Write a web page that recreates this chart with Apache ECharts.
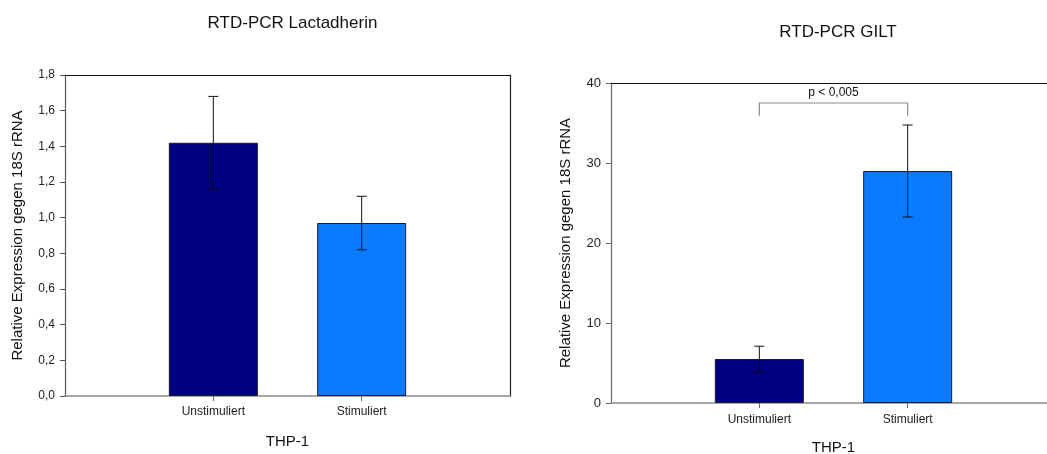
<!DOCTYPE html>
<html>
<head>
<meta charset="utf-8">
<script src="https://cdn.jsdelivr.net/npm/echarts@6/dist/echarts.min.js"></script>
<style>
html,body{margin:0;padding:0;background:#fff;}
#c{width:1047px;height:454px;}
</style>
</head>
<body>
<div id="c"></div>
<script>
// ---- data ----
var categories = ['Unstimuliert', 'Stimuliert'];
var lactadherinMean = [1.42, 0.97];
var lactadherinErr = [0.26, 0.15];
var giltMean = [5.5, 29.0];
var giltErr = [1.6, 5.75];
var significanceLabel = 'p < 0,005';
var bracketTop = 37.5;
var bracketLeg = 35.9;
var barColors = ['#000080', '#0a7bff'];
var titles = ['RTD-PCR Lactadherin', 'RTD-PCR GILT'];
var yTitle = 'Relative Expression gegen 18S rRNA';
var xTitle = 'THP-1';

var FONT = '"Liberation Sans", Arial, sans-serif';
var axisData = [''].concat(categories).concat(['']);

function barSeries(values, gi) {
  return {
    type: 'bar', xAxisIndex: gi * 2, yAxisIndex: gi * 2,
    barWidth: 89,
    data: ['-'].concat(values.map(function (v, i) {
      return { value: v, itemStyle: { color: barColors[i], borderColor: '#1a1a2a', borderWidth: 1 } };
    })).concat(['-']),
    z: 2
  };
}
function errSeries(means, errs, gi) {
  return {
    type: 'custom', xAxisIndex: gi * 2, yAxisIndex: gi * 2, z: 5,
    data: means.map(function (m, i) { return [i + 1, m, errs[i]]; }),
    renderItem: function (params, api) {
      var x = api.value(0), m = api.value(1), e = api.value(2);
      var top = api.coord([x, m + e]);
      var bot = api.coord([x, m - e]);
      var w = 5;
      var st = { stroke: '#111', lineWidth: 1 };
      return { type: 'group', children: [
        { type: 'line', shape: { x1: top[0], y1: top[1], x2: bot[0], y2: bot[1] }, style: st },
        { type: 'line', shape: { x1: top[0] - w, y1: top[1], x2: top[0] + w, y2: top[1] }, style: st },
        { type: 'line', shape: { x1: bot[0] - w, y1: bot[1], x2: bot[0] + w, y2: bot[1] }, style: st }
      ]};
    }
  };
}

var grids = [
  { left: 65, top: 75, width: 445, height: 321, outerBoundsMode: 'none', containLabel: false },
  { left: 611, top: 83, width: 445, height: 320, outerBoundsMode: 'none', containLabel: false }
];

function xAxes(gi, labelMargin, nameGap) {
  return [
    {
      type: 'category', gridIndex: gi, data: axisData, boundaryGap: false, position: 'bottom',
      axisLine: { onZero: false, lineStyle: { color: '#8a8a8a', width: 1.5 } },
      axisTick: { show: true, length: 5, lineStyle: { color: '#666' },
        interval: function (idx) { return idx === 1 || idx === 2; } },
      axisLabel: { color: '#222', fontSize: 12, fontFamily: FONT, margin: labelMargin, interval: 0 },
      name: xTitle, nameLocation: 'middle', nameGap: nameGap,
      nameTextStyle: { color: '#111', fontSize: 15, fontFamily: FONT },
      splitLine: { show: false }
    },
    {
      type: 'category', gridIndex: gi, data: axisData, boundaryGap: false, position: 'top',
      axisLine: { show: true, onZero: false, lineStyle: { color: '#111', width: 1.2 } },
      axisTick: { show: false }, axisLabel: { show: false }, splitLine: { show: false }
    }
  ];
}

var option = {
  backgroundColor: '#fff',
  animation: false,
  title: [
    { text: titles[0], left: 287.5, textAlign: 'center', top: 10,
      textStyle: { fontSize: 17, fontWeight: 'normal', color: '#111', fontFamily: FONT } },
    { text: titles[1], left: 833, textAlign: 'center', top: 19,
      textStyle: { fontSize: 17, fontWeight: 'normal', color: '#111', fontFamily: FONT } }
  ],
  grid: grids,
  xAxis: xAxes(0, 10, 38).concat(xAxes(1, 11, 37)),
  yAxis: [
    {
      type: 'value', gridIndex: 0, min: 0, max: 1.8, interval: 0.2,
      axisLine: { show: true, onZero: false, lineStyle: { color: '#555', width: 1.2 } },
      axisTick: { show: true, length: 5, lineStyle: { color: '#555' } },
      axisLabel: { color: '#222', fontSize: 12, fontFamily: FONT, margin: 10,
        formatter: function (v) { return v.toFixed(1).replace('.', ','); } },
      splitLine: { show: false },
      name: yTitle, nameLocation: 'middle', nameGap: 40, nameRotate: 90,
      nameTextStyle: { color: '#111', fontSize: 15, fontFamily: FONT }
    },
    {
      type: 'value', gridIndex: 0, min: 0, max: 1.8, interval: 0.2, position: 'right',
      axisLine: { show: true, onZero: false, lineStyle: { color: '#222', width: 1.2 } },
      axisTick: { show: false }, axisLabel: { show: false }, splitLine: { show: false }
    },
    {
      type: 'value', gridIndex: 1, min: 0, max: 40, interval: 10,
      axisLine: { show: true, onZero: false, lineStyle: { color: '#666', width: 1.2 } },
      axisTick: { show: true, length: 5, lineStyle: { color: '#666' } },
      axisLabel: { color: '#222', fontSize: 13, fontFamily: FONT, margin: 10 },
      splitLine: { show: false },
      name: yTitle, nameLocation: 'middle', nameGap: 38, nameRotate: 90,
      nameTextStyle: { color: '#111', fontSize: 15, fontFamily: FONT }
    },
    {
      type: 'value', gridIndex: 1, min: 0, max: 40, interval: 10, position: 'right', show: false
    }
  ],
  series: [
    barSeries(lactadherinMean, 0),
    errSeries(lactadherinMean, lactadherinErr, 0),
    barSeries(giltMean, 1),
    errSeries(giltMean, giltErr, 1),
    {
      type: 'custom', xAxisIndex: 2, yAxisIndex: 2, z: 5,
      data: [[1, 2, bracketTop, bracketLeg]],
      renderItem: function (params, api) {
        var a = api.coord([api.value(0), api.value(3)]);
        var b = api.coord([api.value(0), api.value(2)]);
        var c = api.coord([api.value(1), api.value(2)]);
        var d = api.coord([api.value(1), api.value(3)]);
        return { type: 'group', children: [
          { type: 'polyline', shape: { points: [a, b, c, d] },
            style: { stroke: '#8a8a8a', lineWidth: 1.2, fill: null } },
          { type: 'text', x: (b[0] + c[0]) / 2, y: b[1] - 10,
            style: { text: significanceLabel, fill: '#111', fontSize: 12, fontFamily: FONT,
              align: 'center', verticalAlign: 'middle' } }
        ]};
      }
    }
  ]
};

var chart = echarts.init(document.getElementById('c'), null, { renderer: 'canvas' });
chart.setOption(option);
</script>
</body>
</html>
